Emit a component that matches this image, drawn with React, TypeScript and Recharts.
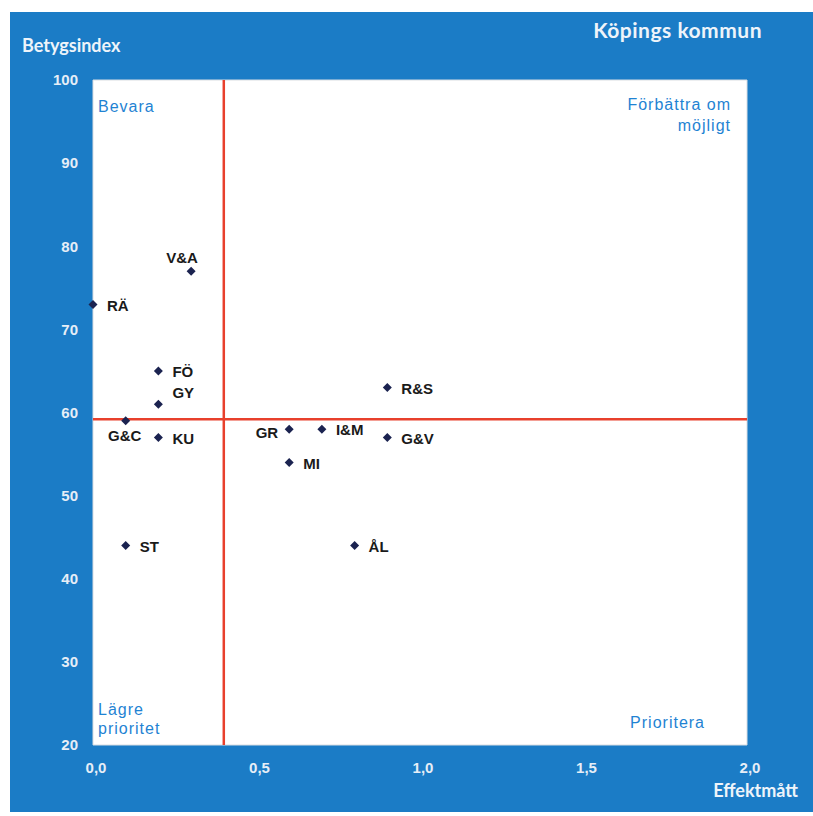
import { ScatterChart, Scatter, XAxis, YAxis, ReferenceLine, ReferenceArea } from 'recharts';

// Areas (kortnamn), effektmått and betygsindex
const areas = ['V&A', 'RÄ', 'FÖ', 'GY', 'G&C', 'KU', 'ST', 'GR', 'I&M', 'G&V', 'MI', 'ÅL', 'R&S'];
const effekt = [0.3, 0.0, 0.2, 0.2, 0.1, 0.2, 0.1, 0.6, 0.7, 0.9, 0.6, 0.8, 0.9];
const betyg = [77, 73, 65, 61, 59, 57, 44, 58, 58, 57, 54, 44, 63];

const xTicks = [0, 0.5, 1, 1.5, 2];
const yTicks = [20, 30, 40, 50, 60, 70, 80, 90, 100];

// Quadrant split lines
const effektSplit = 0.4;
const betygSplit = 59.2;

const points = areas.map((name, i) => ({ name, x: effekt[i], y: betyg[i] }));

const BLUE = '#1b7cc6';
const LABEL_BLUE = '#1f83d3';
const RED = '#e8402c';
const NAVY = '#1b2350';

// where each label sits relative to its marker
const labelPlacement: Record<string, { dx: number; dy: number; anchor: string }> = {
  'V&A': { dx: -9, dy: -13, anchor: 'middle' },
  'GY': { dx: 14, dy: -11, anchor: 'start' },
  'G&C': { dx: -1, dy: 15, anchor: 'middle' },
  'GR': { dx: -11, dy: 4, anchor: 'end' },
};

const W = 803;
const H = 800;

function Marker(props: any) {
  const { cx, cy, payload } = props;
  if (cx == null || cy == null) return null;
  const p = labelPlacement[payload.name] || { dx: 14, dy: 1, anchor: 'start' };
  const r = 4.5;
  return (
    <g>
      <polygon
        points={`${cx},${cy - r} ${cx + r},${cy} ${cx},${cy + r} ${cx - r},${cy}`}
        fill={NAVY}
      />
      <text
        x={cx + p.dx}
        y={cy + p.dy}
        dy="0.35em"
        textAnchor={p.anchor as any}
        fontFamily="'Liberation Sans', Arial, sans-serif"
        fontWeight="bold"
        fontSize={15}
        fill="#1a1a1a"
      >
        {payload.name}
      </text>
    </g>
  );
}

const tickStyle = {
  fontFamily: "'Liberation Sans', Arial, sans-serif",
  fontWeight: 'bold' as const,
  fontSize: 15,
  fill: '#e6eef7',
};

const renderYTick = (props: any) => {
  const { y, payload } = props;
  return (
    <text key={payload.value} x={68} y={y} dy="0.35em" textAnchor="end" {...tickStyle}>
      {payload.value}
    </text>
  );
};

const renderXTick = (props: any) => {
  const { x, payload } = props;
  return (
    <text key={payload.value} x={x + 3} y={756} dy="0.35em" textAnchor="middle" {...tickStyle}>
      {Number(payload.value).toFixed(1).replace('.', ',')}
    </text>
  );
};

const quadFont = {
  fontFamily: "'Liberation Sans', Arial, sans-serif",
  fontSize: 16,
  letterSpacing: 1,
  fill: LABEL_BLUE,
};
const headFont = { fontFamily: 'Lato, sans-serif', fontWeight: 'bold' as const, fill: '#eef4fa' };

export default function App() {
  return (
    <div style={{ position: 'absolute', left: 10, top: 12, width: W, height: H, background: BLUE }}>
      <ScatterChart width={W} height={H} margin={{ top: 68, right: 66, bottom: 37, left: 43 }}>
        <XAxis
          type="number"
          dataKey="x"
          domain={[0, 2]}
          ticks={xTicks}
          axisLine={false}
          tickLine={false}
          height={30}
          interval={0}
          tick={renderXTick}
        />
        <YAxis
          type="number"
          dataKey="y"
          domain={[20, 100]}
          ticks={yTicks}
          axisLine={false}
          tickLine={false}
          width={40}
          interval={0}
          tick={renderYTick}
        />
        <ReferenceArea x1={0} x2={2} y1={20} y2={100} fill="#ffffff" fillOpacity={1} stroke="#d9dde2" strokeWidth={1} />
        <ReferenceLine x={effektSplit} stroke={RED} strokeWidth={2.5} />
        <ReferenceLine y={betygSplit} stroke={RED} strokeWidth={2.5} />
        <Scatter data={points} shape={<Marker />} isAnimationActive={false} />
      </ScatterChart>
      <svg width={W} height={H} style={{ position: 'absolute', left: 0, top: 0, pointerEvents: 'none' }}>
        <text x={752} y={26} textAnchor="end" fontSize={21} letterSpacing={0.5} {...headFont}>Köpings kommun</text>
        <text x={12} y={40} fontSize={18} {...headFont}>Betygsindex</text>
        <text x={788} y={785} textAnchor="end" fontSize={18} {...headFont}>Effektmått</text>
        <text x={88} y={100} {...quadFont}>Bevara</text>
        <text x={721} y={98} textAnchor="end" {...quadFont}>Förbättra om</text>
        <text x={721} y={119} textAnchor="end" {...quadFont}>möjligt</text>
        <text x={88} y={703} {...quadFont}>Lägre</text>
        <text x={88} y={722} {...quadFont}>prioritet</text>
        <text x={695} y={716} textAnchor="end" {...quadFont}>Prioritera</text>
      </svg>
    </div>
  );
}
